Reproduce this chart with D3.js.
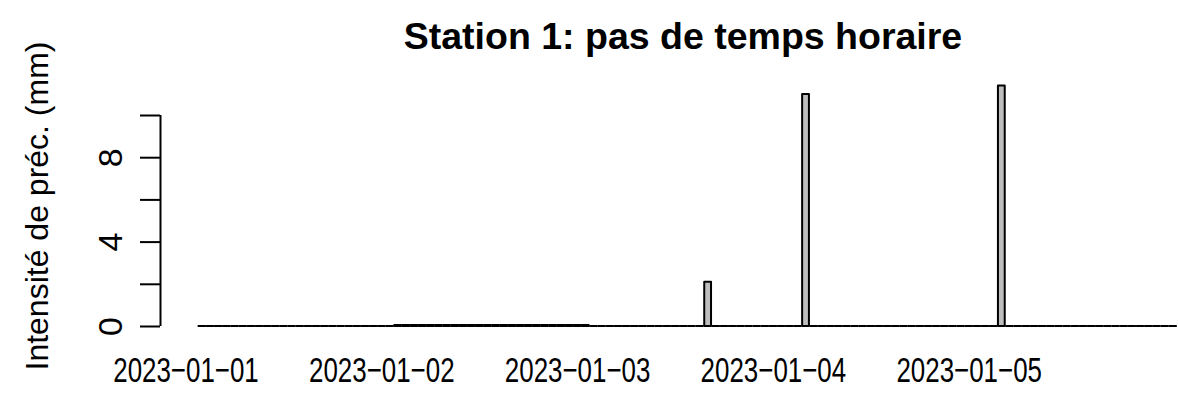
<!DOCTYPE html>
<html lang="en">

<head>
  <meta charset="UTF-8">
  <title>Station 1: pas de temps horaire</title>
  <style>
    body { margin: 0; background: #ffffff; }
    text { font-family: 'Liberation Sans', Arial, sans-serif; }
  </style>
</head>

<body>
  <svg id="svg" width="1178" height="401"></svg>

  <script src="https://d3js.org/d3.v7.min.js"></script>
  <script>
    // hourly precipitation (mm), first bar at 2023-01-01 02:00
    const day1 = [0, 0, 0, 0, 0, 0, 0, 0, 0, 0, 0, 0, 0, 0, 0, 0, 0, 0, 0, 0, 0, 0, 0, 0]
    const day2 = [0.05, 0.05, 0.05, 0.05, 0.05, 0.05, 0.05, 0.05, 0.05, 0.05, 0.05, 0.05,
      0.05, 0.05, 0.05, 0.05, 0.05, 0.05, 0.05, 0.05, 0.05, 0.05, 0.05, 0.05]
    const day3 = [0, 0, 0, 0, 0, 0, 0, 0, 0, 0, 0, 0, 0, 0, 2.1, 0, 0, 0, 0, 0, 0, 0, 0, 0]
    const day4 = [0, 0, 11.0, 0, 0, 0, 0, 0, 0, 0, 0, 0, 0, 0, 0, 0, 0, 0, 0, 0, 0, 0, 0, 0]
    const day5 = [0, 0, 11.4, 0, 0, 0, 0, 0, 0, 0, 0, 0, 0, 0, 0, 0, 0, 0, 0, 0, 0, 0, 0, 0]

    const startTime = new Date(Date.UTC(2023, 0, 1, 2))
    const dayLabels = ['2023−01−01', '2023−01−02', '2023−01−03', '2023−01−04', '2023−01−05']
    const yTicks = [0, 2, 4, 6, 8, 10]
    const yLabelled = [0, 4, 8]

    const title = 'Station 1: pas de temps horaire'
    const yTitle = 'Intensité de préc. (mm)'

    const values = [].concat(day1, day2, day3, day4, day5)
    const hour = 3600 * 1000
    const data = values.map((v, i) => ({ time: new Date(startTime.getTime() + i * hour), value: v }))
    const days = dayLabels.map((d, i) => new Date(Date.UTC(2023, 0, 1 + i)))

    const svg = d3.select('#svg')

    // one day = 195.8px, midnight of day 1 at x=185.5
    const x = d3.scaleUtc()
      .domain([days[0], days[4]])
      .range([185.5, 185.5 + 4 * 195.8])

    const y = d3.scaleLinear()
      .domain([0, 10])
      .range([326, 115])

    const barW = (x(new Date(hour)) - x(new Date(0))) * 0.833

    // bars drawn as paths so zero-height ones still show their border
    svg.append('g')
      .selectAll('path')
      .data(data)
      .enter()
      .append('path')
      .attr('d', d => {
        const cx = x(d.time)
        const x0 = cx - barW / 2
        const x1 = cx + barW / 2
        return `M${x0},${y(0)}H${x1}V${y(d.value)}H${x0}Z`
      })
      .attr('fill', '#bebebe')
      .attr('stroke', '#000000')
      .attr('stroke-width', 2)
      .attr('stroke-linejoin', 'round')

    // y axis
    const yAxis = svg.append('g')
      .attr('transform', 'translate(160,0)')
      .call(d3.axisLeft(y)
        .tickValues(yTicks)
        .tickSize(20)
        .tickSizeOuter(0)
        .tickFormat(d => yLabelled.includes(d) ? d : ''))

    yAxis.select('.domain')
      .attr('stroke-width', 2)
      .attr('d', `M0.5,${y(0)}V${y(10)}`)
    yAxis.selectAll('.tick line')
      .attr('stroke-width', 2)
    yAxis.selectAll('.tick text')
      .attr('x', 0)
      .attr('dy', 0)
      .attr('transform', 'translate(-38,0) rotate(-90)')
      .attr('text-anchor', 'middle')
      .style('font-size', '34px')
      .attr('fill', '#000000')
      .attr('font-family', null)

    // x labels, no axis line; glyphs are narrower than tall in the original
    const xAxis = svg.append('g')
      .attr('transform', 'translate(0,382)')
      .call(d3.axisBottom(x)
        .tickValues(days)
        .tickSize(0)
        .tickFormat((d, i) => dayLabels[i]))

    xAxis.select('.domain').remove()
    xAxis.selectAll('.tick text')
      .attr('y', 0)
      .attr('dy', 0)
      .attr('transform', 'scale(0.72,1)')
      .style('font-size', '36px')
      .attr('fill', '#000000')
      .attr('font-family', null)

    svg.append('text')
      .text(title)
      .attr('x', 683)
      .attr('y', 49)
      .attr('text-anchor', 'middle')
      .style('font-size', '37.5px')
      .style('font-weight', 'bold')

    svg.append('text')
      .text(yTitle)
      .attr('transform', 'translate(48,206) rotate(-90)')
      .attr('text-anchor', 'middle')
      .style('font-size', '32px')
  </script>

</body>

</html>
